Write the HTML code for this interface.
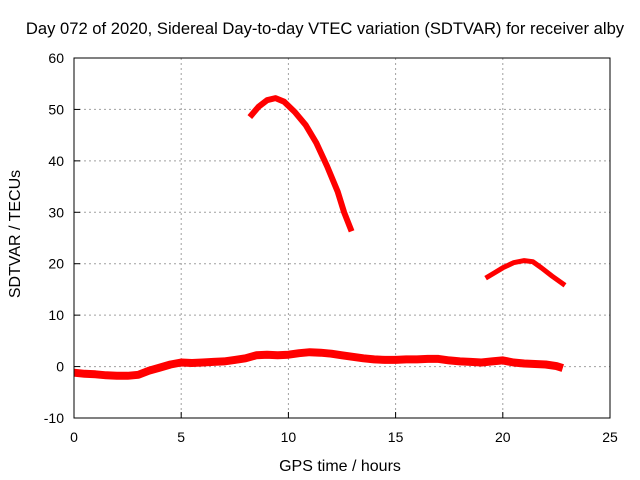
<!DOCTYPE html>
<html><head><meta charset="utf-8"><style>
body{margin:0;background:#fff}
svg{display:block;font-family:"Liberation Sans",sans-serif}
</style></head><body>
<svg id="c" width="640" height="480">
<rect width="640" height="480" fill="#fff"/>
<text x="325" y="34" font-size="16.6" text-anchor="middle">Day 072 of 2020, Sidereal Day-to-day VTEC variation (SDTVAR) for receiver alby</text>
<text x="340" y="471" font-size="16" text-anchor="middle">GPS time / hours</text>
<text transform="translate(20,234) rotate(-90)" font-size="16" text-anchor="middle">SDTVAR / TECUs</text>
<g id="grid"></g><g id="series"></g>
<rect x="74" y="58" width="536" height="360" fill="none" stroke="#000"/>
</svg>
<script>
const xTicks=[0,5,10,15,20,25];
const yTicks=[-10,0,10,20,30,40,50,60];
const baseX=[0,0.5,1,1.5,2,2.5,3,3.5,4,4.5,5,5.5,6,6.5,7,7.5,8,8.5,9,9.5,10,10.5,11,11.5,12,12.5,13,13.5,14,14.5,15,15.5,16,16.5,17,17.5,18,18.5,19,19.5,20,20.5,21,21.5,22,22.5,22.8];
const baseY=[-1.2,-1.4,-1.5,-1.7,-1.8,-1.8,-1.6,-0.8,-0.2,0.4,0.8,0.7,0.8,0.9,1.0,1.3,1.6,2.2,2.3,2.2,2.3,2.6,2.8,2.7,2.5,2.2,1.9,1.6,1.4,1.3,1.3,1.4,1.4,1.5,1.5,1.2,1.0,0.9,0.8,1.0,1.2,0.8,0.6,0.5,0.4,0.1,-0.3];
const arc1X=[8.2,8.6,9.0,9.4,9.8,10.3,10.8,11.3,11.8,12.3,12.6,12.95];
const arc1Y=[48.5,50.5,51.8,52.2,51.5,49.5,47,43.5,39,34,30,26.3];
const arc2X=[19.2,19.6,20.0,20.5,21.0,21.4,21.8,22.3,22.9];
const arc2Y=[17.2,18.2,19.2,20.2,20.6,20.4,19.2,17.6,15.8];
const NS='http://www.w3.org/2000/svg';
const sx=v=>74+v*536/25, sy=v=>418-(v+10)*360/70;
const g=document.getElementById('grid'), s=document.getElementById('series');
function mk(tag,at,p){const e=document.createElementNS(NS,tag);for(const k in at)e.setAttribute(k,at[k]);p.appendChild(e);return e;}
xTicks.forEach(t=>{
 if(t>0&&t<25){const l=mk('line',{x1:sx(t),x2:sx(t),y1:58,y2:418,stroke:'#a0a0a0','stroke-dasharray':'2,3'},g);
 
 }
 const tk=mk('line',{x1:sx(t),x2:sx(t),y1:418,y2:412,stroke:'#000'},g);
 
 
 const tx=mk('text',{x:sx(t),y:442,'font-size':14,'text-anchor':'middle'},g);tx.textContent=t;
 
 
});
yTicks.forEach(t=>{
 if(t>-10&&t<60){const l=mk('line',{x1:74,x2:610,y1:sy(t),y2:sy(t),stroke:'#a0a0a0','stroke-dasharray':'2,3'},g);
 
 }
 const tk=mk('line',{x1:74,x2:80,y1:sy(t),y2:sy(t),stroke:'#000'},g);
 
 
 const tx=mk('text',{x:64,y:sy(t)+5,'font-size':14,'text-anchor':'end'},g);tx.textContent=t;
 
 
});
function line(X,Y,w,name){
 const pts=X.map((x,i)=>sx(x).toFixed(1)+','+sy(Y[i]).toFixed(1)).join(' ');
 const p=mk('polyline',{points:pts,fill:'none',stroke:'#ff0000','stroke-width':w,'stroke-linejoin':'round'},s);
 
 
}
line(baseX,baseY,8,'base-series');
line(arc1X,arc1Y,6,'arc-series-1');
line(arc2X,arc2Y,5,'arc-series-2');
</script>
</body></html>
